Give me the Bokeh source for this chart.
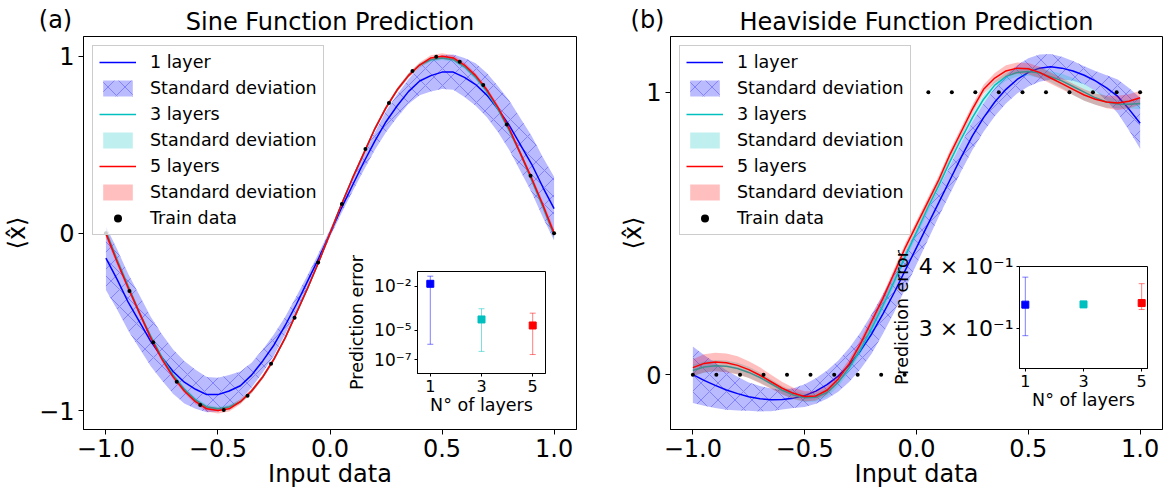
from bokeh.plotting import figure
from bokeh.models import (Range1d, FixedTicker, Legend, LegendItem, Label, Whisker,
                          ColumnDataSource, TeeHead, CustomJSTickFormatter)
from bokeh.embed import file_html
from bokeh.resources import INLINE

FONT = "DejaVu Sans"
BLUE, CYAN, RED = "#0000ff", "#00bfbf", "#ff0000"

# ---------------- data ----------------
xs = [-1.0, -0.95, -0.9, -0.85, -0.8, -0.75, -0.7, -0.65, -0.6, -0.55, -0.5, -0.45, -0.4,
      -0.35, -0.3, -0.25, -0.2, -0.15, -0.1, -0.05, 0.0, 0.05, 0.1, 0.15, 0.2, 0.25, 0.3,
      0.35, 0.4, 0.45, 0.5, 0.55, 0.6, 0.65, 0.7, 0.75, 0.8, 0.85, 0.9, 0.95, 1.0]

train_x = [-1.0, -0.895, -0.789, -0.684, -0.579, -0.474, -0.368, -0.263, -0.158, -0.053,
           0.053, 0.158, 0.263, 0.368, 0.474, 0.579, 0.684, 0.789, 0.895, 1.0]
sine_train_y = [0.0, -0.325, -0.614, -0.837, -0.969, -0.997, -0.916, -0.736, -0.476, -0.165,
                0.165, 0.476, 0.736, 0.916, 0.997, 0.969, 0.837, 0.614, 0.325, 0.0]
heavi_train_y = [0, 0, 0, 0, 0, 0, 0, 0, 0, 0, 1, 1, 1, 1, 1, 1, 1, 1, 1, 1]

sine_1 = [-0.14, -0.26, -0.39, -0.50, -0.61, -0.70, -0.78, -0.84, -0.88, -0.91, -0.91, -0.89,
          -0.86, -0.80, -0.72, -0.63, -0.52, -0.40, -0.27, -0.14, 0.0, 0.14, 0.27, 0.40, 0.52,
          0.63, 0.72, 0.80, 0.86, 0.89, 0.91, 0.91, 0.88, 0.84, 0.78, 0.70, 0.61, 0.50, 0.39,
          0.26, 0.14]
sine_1_std = [0.18, 0.17, 0.16, 0.15, 0.14, 0.13, 0.125, 0.12, 0.11, 0.10, 0.095, 0.09, 0.08,
              0.07, 0.065, 0.06, 0.05, 0.045, 0.035, 0.03, 0.02, 0.03, 0.035, 0.045, 0.05, 0.06,
              0.065, 0.07, 0.08, 0.09, 0.095, 0.10, 0.11, 0.12, 0.125, 0.13, 0.14, 0.15, 0.16,
              0.17, 0.18]
sine_3 = [0.01, -0.15, -0.30, -0.45, -0.58, -0.70, -0.80, -0.88, -0.94, -0.98, -0.99, -0.98,
          -0.95, -0.89, -0.81, -0.71, -0.59, -0.45, -0.31, -0.16, 0.0, 0.16, 0.31, 0.45, 0.59,
          0.71, 0.81, 0.89, 0.95, 0.98, 0.99, 0.98, 0.94, 0.88, 0.80, 0.70, 0.58, 0.45, 0.30,
          0.15, -0.01]
sine_3_std = [0.02, 0.018, 0.015, 0.013, 0.012, 0.012, 0.012, 0.012, 0.012, 0.012, 0.012, 0.012,
              0.012, 0.012, 0.011, 0.011, 0.01, 0.01, 0.01, 0.01, 0.01, 0.01, 0.01, 0.01, 0.01,
              0.011, 0.011, 0.012, 0.012, 0.012, 0.012, 0.012, 0.012, 0.012, 0.012, 0.012, 0.012,
              0.013, 0.015, 0.018, 0.02]
sine_5 = [0.0, -0.16, -0.31, -0.45, -0.59, -0.71, -0.81, -0.89, -0.95, -0.99, -1.0, -0.99,
          -0.95, -0.89, -0.81, -0.71, -0.59, -0.45, -0.31, -0.16, 0.0, 0.16, 0.31, 0.45, 0.59,
          0.71, 0.81, 0.89, 0.95, 0.99, 1.0, 0.99, 0.95, 0.89, 0.81, 0.71, 0.59, 0.45, 0.31,
          0.16, 0.0]
sine_5_std = [0.025, 0.02, 0.018, 0.016, 0.015, 0.014, 0.013, 0.013, 0.014, 0.015, 0.016, 0.015,
              0.014, 0.013, 0.012, 0.012, 0.011, 0.011, 0.01, 0.01, 0.01, 0.01, 0.01, 0.011,
              0.011, 0.012, 0.012, 0.013, 0.014, 0.015, 0.016, 0.015, 0.014, 0.013, 0.013, 0.014,
              0.015, 0.016, 0.018, 0.02, 0.025]

heavi_1 = [0.0, -0.02, -0.038, -0.054, -0.067, -0.078, -0.085, -0.089, -0.088, -0.083, -0.074,
           -0.058, -0.035, -0.005, 0.035, 0.085, 0.145, 0.215, 0.29, 0.37, 0.45, 0.53, 0.61,
           0.69, 0.77, 0.845, 0.91, 0.965, 1.01, 1.045, 1.07, 1.085, 1.09, 1.085, 1.075, 1.06,
           1.04, 1.015, 0.985, 0.94, 0.89]
heavi_1_std = [0.1, 0.09, 0.08, 0.07, 0.06, 0.05, 0.045, 0.04, 0.035, 0.035, 0.04, 0.045, 0.05,
               0.055, 0.06, 0.065, 0.07, 0.07, 0.07, 0.065, 0.06, 0.055, 0.05, 0.05, 0.05, 0.05,
               0.05, 0.05, 0.05, 0.05, 0.05, 0.048, 0.045, 0.04, 0.035, 0.032, 0.035, 0.045,
               0.06, 0.075, 0.09]
heavi_3 = [0.015, 0.027, 0.032, 0.03, 0.022, 0.008, -0.01, -0.032, -0.055, -0.072, -0.082,
           -0.08, -0.063, -0.027, 0.025, 0.09, 0.165, 0.245, 0.33, 0.42, 0.505, 0.59, 0.67,
           0.755, 0.835, 0.91, 0.975, 1.025, 1.055, 1.07, 1.073, 1.068, 1.055, 1.04, 1.02, 1.0,
           0.98, 0.965, 0.958, 0.957, 0.96]
heavi_3_std = [0.02, 0.02, 0.02, 0.02, 0.02, 0.02, 0.018, 0.016, 0.015, 0.015, 0.015, 0.015,
               0.015, 0.015, 0.015, 0.015, 0.015, 0.015, 0.015, 0.015, 0.015, 0.015, 0.015,
               0.015, 0.015, 0.015, 0.015, 0.015, 0.015, 0.015, 0.015, 0.018, 0.02, 0.025, 0.03,
               0.03, 0.025, 0.02, 0.015, 0.015, 0.02]
heavi_5 = [0.025, 0.04, 0.045, 0.042, 0.033, 0.018, -0.002, -0.025, -0.048, -0.066, -0.077,
           -0.075, -0.055, -0.015, 0.04, 0.11, 0.19, 0.27, 0.36, 0.45, 0.53, 0.61, 0.69, 0.78,
           0.86, 0.94, 1.01, 1.05, 1.075, 1.085, 1.083, 1.07, 1.05, 1.03, 1.01, 0.99, 0.975,
           0.965, 0.962, 0.968, 0.98]
heavi_5_std = [0.03, 0.032, 0.033, 0.033, 0.032, 0.03, 0.028, 0.025, 0.022, 0.02, 0.018, 0.016,
               0.015, 0.015, 0.015, 0.015, 0.015, 0.015, 0.015, 0.015, 0.015, 0.015, 0.015,
               0.015, 0.015, 0.015, 0.016, 0.018, 0.02, 0.02, 0.02, 0.02, 0.02, 0.02, 0.02, 0.02,
               0.02, 0.022, 0.025, 0.025, 0.025]

layers = [1, 3, 5]
sine_err = [1.45e-2, 5.4e-5, 2.1e-5]
sine_err_lo = [1.1e-6, 3.6e-7, 2.2e-7]
sine_err_hi = [4.8e-2, 2.9e-4, 1.45e-4]
heavi_err = [0.335, 0.3354, 0.3375]
heavi_err_lo = [0.290, 0.331, 0.3275]
heavi_err_hi = [0.3807, 0.3402, 0.3693]

series_labels = ["1 layer", "3 layers", "5 layers"]
colors = [BLUE, CYAN, RED]

# ---------------- helpers ----------------
MAIN_X_FMT = CustomJSTickFormatter(code="return tick.toFixed(1).replace('-', '\u2212');")
MAIN_Y_FMT = CustomJSTickFormatter(code="return tick.toFixed(0).replace('-', '\u2212');")


def abs_style(left, top):
    return {"position": "absolute", "left": f"{left}px", "top": f"{top}px"}


def style_axes(p, xsize, ysize, lsize):
    for ax in (p.xaxis[0], p.yaxis[0]):
        ax.axis_label_text_font = FONT
        ax.axis_label_text_font_style = "normal"
        ax.axis_label_text_font_size = lsize
        ax.major_label_text_font = FONT
        ax.axis_line_color = "black"
        ax.major_tick_line_color = "black"
        ax.minor_tick_line_color = None
        ax.major_tick_in = 0
        ax.major_tick_out = 5
        ax.major_label_text_color = "black"
        ax.axis_label_text_color = "black"
    p.xaxis[0].major_label_text_font_size = xsize
    p.yaxis[0].major_label_text_font_size = ysize
    p.grid.visible = False
    p.outline_line_color = "black"
    p.outline_line_alpha = 1


def main_panel(title, means, stds, train_y, yr, yticks, left, left_border, frame_w,
               right_border, ylab_standoff):
    p = figure(frame_width=frame_w, frame_height=393, x_range=Range1d(-1.1, 1.1),
               y_range=Range1d(*yr), output_backend="svg", toolbar_location=None,
               min_border_left=left_border, min_border_right=right_border,
               min_border_top=36, min_border_bottom=64, background_fill_color="white",
               border_fill_color="white", styles=abs_style(left, 0))
    p.title.text = title
    p.title.text_font = FONT
    p.title.text_font_size = "24px"
    p.title.text_font_style = "normal"
    p.title.text_color = "black"
    p.title.align = "center"
    p.title.standoff = 2
    style_axes(p, "24px", "24px", "24px")
    p.xaxis[0].axis_label = "Input data"
    p.yaxis[0].axis_label = "\u27e8x\u0302\u27e9"
    p.xaxis[0].ticker = FixedTicker(ticks=[-1.0, -0.5, 0.0, 0.5, 1.0])
    p.xaxis[0].formatter = MAIN_X_FMT
    p.yaxis[0].ticker = FixedTicker(ticks=yticks)
    p.yaxis[0].formatter = MAIN_Y_FMT
    p.xaxis[0].major_label_standoff = 4
    p.yaxis[0].major_label_standoff = 4
    p.xaxis[0].axis_label_standoff = 0
    p.yaxis[0].axis_label_standoff = ylab_standoff

    items = []
    for lab, col, m, s in zip(series_labels, colors, means, stds):
        lo = [a - b for a, b in zip(m, s)]
        hi = [a + b for a, b in zip(m, s)]
        ln = p.line(xs, m, line_color=col, line_width=1.5)
        if col == BLUE:
            band = p.varea(x=xs, y1=lo, y2=hi, fill_color=col, fill_alpha=0.27,
                           hatch_pattern="x", hatch_color=col, hatch_alpha=0.3,
                           hatch_scale=17, hatch_weight=1)
        else:
            band = p.varea(x=xs, y1=lo, y2=hi, fill_color=col, fill_alpha=0.25)
        items.append(LegendItem(label=lab, renderers=[ln]))
        items.append(LegendItem(label="Standard deviation", renderers=[band]))
    dots = p.scatter(train_x, train_y, size=4, fill_color="black", line_color=None)
    items.append(LegendItem(label="Train data", renderers=[dots]))

    leg = Legend(items=items, location="top_left", label_text_font=FONT,
                 label_text_font_size="17.5px", label_text_color="black",
                 glyph_width=37, glyph_height=20,
                 label_height=20, spacing=6, padding=6, margin=9, label_standoff=14,
                 border_line_color="#cccccc", border_line_alpha=1,
                 background_fill_alpha=0.8)
    p.add_layout(leg)
    return p


def letter_fig(text, cx, cy):
    w, h = 60, 36
    p = figure(frame_width=w, frame_height=h, x_range=Range1d(0, 1), y_range=Range1d(0, 1),
               title_location=None, x_axis_location=None, y_axis_location=None,
               output_backend="svg", toolbar_location=None, min_border=0,
               border_fill_alpha=0, background_fill_alpha=0, outline_line_color=None,
               styles=abs_style(cx - w // 2, cy - h // 2))
    p.grid.visible = False
    p.add_layout(Label(x=0.5, y=0.5, text=text, text_font=FONT, text_font_size="24px",
                       text_align="center", text_baseline="middle", text_color="black"))
    return p


pA = main_panel("Sine Function Prediction", [sine_1, sine_3, sine_5],
                [sine_1_std, sine_3_std, sine_5_std], sine_train_y, (-1.107, 1.111),
                [-1, 0, 1], 0, 81, 493, 16, 5)
pB = main_panel("Heaviside Function Prediction", [heavi_1, heavi_3, heavi_5],
                [heavi_1_std, heavi_3_std, heavi_5_std], heavi_train_y, (-0.194, 1.197),
                [0, 1], 590, 80, 492, 1, -4)

SUP_FMT = CustomJSTickFormatter(code="""
const sup = {'-': '\u207b', '0': '\u2070', '1': '\u00b9', '2': '\u00b2', '3': '\u00b3',
             '4': '\u2074', '5': '\u2075', '6': '\u2076', '7': '\u2077', '8': '\u2078', '9': '\u2079'};
const e = Math.round(Math.log10(tick));
return '10' + String(e).split('').map(c => sup[c]).join('');
""")
MANT_FMT = CustomJSTickFormatter(code="""
return String(Math.round(tick * 10)) + ' \u00d7 10\u207b\u00b9';
""")


def inset(left, top, fw, fh, bl, bt, bb, br, xr, yr, yticks, yfmt, ytick_size,
          err, lo, hi):
    p = figure(frame_width=fw, frame_height=fh, x_range=Range1d(*xr), y_range=Range1d(*yr),
               y_axis_type="log", output_backend="svg", toolbar_location=None,
               title_location=None,
               min_border_left=bl, min_border_top=bt, min_border_bottom=bb,
               min_border_right=br, background_fill_color="white",
               border_fill_alpha=0, styles=abs_style(left, top))
    style_axes(p, "16px", ytick_size, "17.5px")
    for ax in (p.xaxis[0], p.yaxis[0]):
        ax.major_tick_out = 3
        ax.major_label_standoff = 3
        ax.axis_label_standoff = 0
    p.yaxis[0].axis_label_standoff = 4
    p.xaxis[0].axis_label = "N\u00b0 of layers"
    p.yaxis[0].axis_label = "Prediction error"
    p.xaxis[0].ticker = FixedTicker(ticks=[1, 3, 5])
    p.yaxis[0].ticker = FixedTicker(ticks=yticks)
    p.yaxis[0].formatter = yfmt
    for i, col in enumerate(colors):
        src = ColumnDataSource(dict(x=[layers[i]], y=[err[i]], lo=[lo[i]], hi=[hi[i]]))
        p.add_layout(Whisker(source=src, base="x", lower="lo", upper="hi",
                             dimension="height", line_color=col, line_alpha=0.5,
                             line_width=1,
                             lower_head=TeeHead(size=6, line_color=col, line_alpha=0.5),
                             upper_head=TeeHead(size=6, line_color=col, line_alpha=0.5)))
        p.scatter("x", "y", source=src, marker="square", size=7, color=col)
    return p


insA = inset(340, 250, 128, 102, 77, 21, 48, 5, (0.5, 5.5), (10 ** -7.95, 10 ** -1.0),
             [1e-7, 1e-5, 1e-2], SUP_FMT, "17px", sine_err, sine_err_lo, sine_err_hi)
insB = inset(880, 250, 128, 102, 139, 16, 50, 16, (0.8, 5.2), (0.249, 0.4),
             [0.3, 0.4], MANT_FMT, "22px", heavi_err, heavi_err_lo, heavi_err_hi)

letA = letter_fig("(a)", 55, 19)
letB = letter_fig("(b)", 647, 19)

p = [pA, pB, insA, insB, letA, letB]
open("out.html", "w").write(file_html(p, INLINE))
